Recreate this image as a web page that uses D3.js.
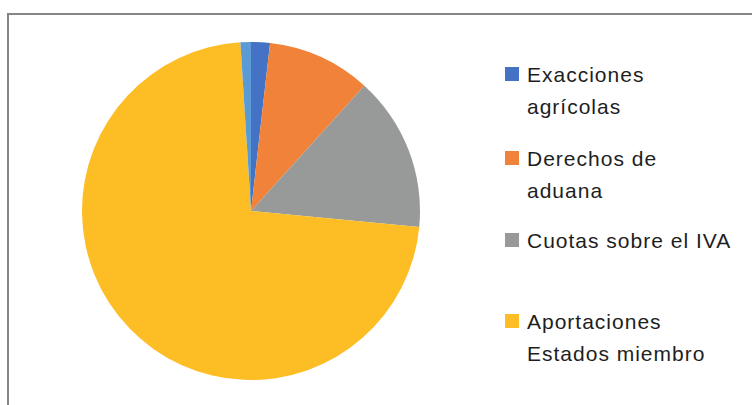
<!DOCTYPE html>
<html>
<head>
<meta charset="utf-8">
<script src="https://cdn.jsdelivr.net/npm/d3@7"></script>
<style>
  body { margin: 0; background: #fff; }
  svg { display: block; }
</style>
</head>
<body>
<div id="chart"></div>
<script>
// slice values (share of the total)
var categories = ["Exacciones agrícolas", "Derechos de aduana", "Cuotas sobre el IVA", "Aportaciones Estados miembro", "Otros"];
var values = [1.8, 9.9, 14.8, 72.5, 1.0];
var colors = ["#4472c4", "#f0823a", "#989a9a", "#fdbd25", "#5b9bd5"];

// legend shows only the first four, wrapped as in the original
var legendLines = [["Exacciones", "agrícolas"], ["Derechos de", "aduana"], ["Cuotas sobre el IVA"], ["Aportaciones", "Estados miembro"]];
var legendY = [74, 158, 240, 321];

var width = 752, height = 405;

var svg = d3.select("#chart").append("svg")
  .attr("width", width)
  .attr("height", height);

// frame of the chart area (only top and left edges are in view)
svg.append("rect")
  .attr("x", 8)
  .attr("y", 14)
  .attr("width", 800)
  .attr("height", 500)
  .attr("fill", "none")
  .attr("stroke", "#858585")
  .attr("stroke-width", 2);

var cx = 251, cy = 211, radius = 169;

var pie = d3.pie().sort(null).value(function(d) { return d; });
var arc = d3.arc().innerRadius(0).outerRadius(radius);

var g = svg.append("g").attr("transform", "translate(" + cx + "," + cy + ")");

g.selectAll("path")
  .data(pie(values))
  .enter()
  .append("path")
  .attr("d", arc)
  .attr("fill", function(d, i) { return colors[i]; });

// Legend
var legend = svg.append("g");

for (var i = 0; i < legendLines.length; i++) {
  legend.append("rect")
    .attr("x", 505)
    .attr("y", legendY[i] - 7)
    .attr("width", 14)
    .attr("height", 14)
    .attr("fill", colors[i]);

  var t = legend.append("text")
    .attr("x", 527)
    .attr("y", legendY[i] + 8)
    .attr("font-family", "Liberation Sans, Arial, sans-serif")
    .attr("font-size", "21px")
    .attr("letter-spacing", "1px")
    .attr("fill", "#1e1e1e");

  legendLines[i].forEach(function(line, j) {
    t.append("tspan")
      .attr("x", 527)
      .attr("dy", j === 0 ? 0 : 32)
      .text(line);
  });
}
</script>
</body>
</html>
